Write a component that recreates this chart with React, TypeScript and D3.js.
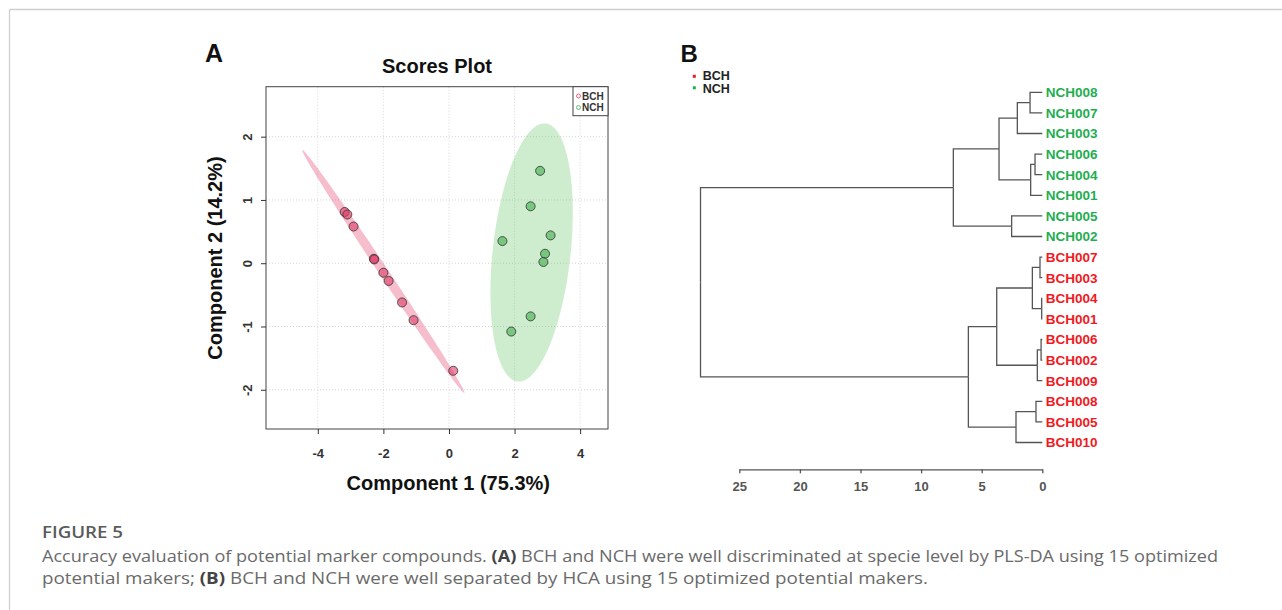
import * as d3 from "d3";
import React, { useRef, useEffect } from "react";

// ---- panel A: PLS-DA scores ----
const bchX = [-3.18, -3.1, -2.91, -2.29, -2.28, -2.0, -1.84, -1.43, -1.08, 0.13];
const bchY = [0.81, 0.77, 0.58, 0.07, 0.06, -0.15, -0.28, -0.62, -0.9, -1.7];
const nchX = [2.78, 2.49, 3.1, 1.63, 2.93, 2.88, 2.49, 1.9];
const nchY = [1.46, 0.9, 0.44, 0.35, 0.15, 0.02, -0.84, -1.08];
const xTicks = [-4, -2, 0, 2, 4];
const yTicks = [-2, -1, 0, 1, 2];
// 95% ellipses: centre, first and second semi-axis vectors (data units)
const bchEllipseC = [-2.0, -0.13];
const bchEllipseA = [-2.47, 1.92];
const bchEllipseB = [0.12, 0.04];
const nchEllipseC = [2.52, 0.17];
const nchEllipseA = [0.43, 2.04];
const nchEllipseB = [1.18, -0.07];
const groups = ["BCH", "NCH"];

// ---- panel B: HCA dendrogram ----
const hcaTree = {
  h: 28.2,
  c: [
    {
      h: 7.34,
      c: [
        {
          h: 3.57,
          c: [
            { h: 2.06, c: [{ h: 1.01, c: ["NCH008", "NCH007"] }, "NCH003"] },
            { h: 0.96, c: [{ h: 0.6, c: ["NCH006", "NCH004"] }, "NCH001"] },
          ],
        },
        { h: 2.53, c: ["NCH005", "NCH002"] },
      ],
    },
    {
      h: 6.1,
      c: [
        {
          h: 3.76,
          c: [
            { h: 0.82, c: [{ h: 0.19, c: ["BCH007", "BCH003"] }, { h: 0.05, c: ["BCH004", "BCH001"] }] },
            { h: 0.41, c: [{ h: 0.1, c: ["BCH006", "BCH002"] }, "BCH009"] },
          ],
        },
        { h: 2.17, c: [{ h: 0.52, c: ["BCH008", "BCH005"] }, "BCH010"] },
      ],
    },
  ],
};
const hTicks = [25, 20, 15, 10, 5, 0];

const pink = "#e0406a";
const green = "#43b04f";
const labRed = "#f01a1e";
const labGreen = "#1fae4f";
const chartFont = "'Liberation Sans', Arial, sans-serif";

const App = () => {
  const gx = useRef<SVGGElement>(null);
  const gy = useRef<SVGGElement>(null);
  const gh = useRef<SVGGElement>(null);

  const x = d3.scaleLinear([-5.58, 4.85], [266, 608]);
  const y = d3.scaleLinear([-2.62, 2.79], [429, 86.7]);
  const hx = d3.scaleLinear([0, 25], [1042.3, 739.3]);

  useEffect(() => {
    const ax = d3
      .select(gx.current)
      .call(d3.axisBottom(x).tickValues(xTicks).tickSize(5).tickPadding(15).tickFormat((d: any) => String(d)));
    ax.select(".domain").remove();
    ax.attr("font-size", 13).attr("font-weight", "bold").attr("font-family", chartFont).attr("color", "#333");

    const ay = d3
      .select(gy.current)
      .call(d3.axisLeft(y).tickValues(yTicks).tickSize(5).tickFormat((d: any) => String(d)));
    ay.select(".domain").remove();
    ay.attr("font-size", 13).attr("font-weight", "bold").attr("font-family", chartFont).attr("color", "#333");
    ay.selectAll(".tick text")
      .attr("x", null)
      .attr("dy", null)
      .attr("text-anchor", "middle")
      .attr("transform", "translate(-14.5,0) rotate(-90)");

    const ah = d3
      .select(gh.current)
      .call(d3.axisBottom(hx).tickValues(hTicks).tickSize(4).tickSizeOuter(0).tickPadding(8));
    ah.attr("font-size", 13).attr("font-weight", "bold").attr("font-family", chartFont).attr("color", "#555");
    ah.selectAll("path,line").attr("stroke-width", 1.3);
  }, []);

  const ellipsePath = (c: number[], a: number[], b: number[]) =>
    d3.line()(
      d3.range(0, 361, 4).map((t) => {
        const r = (t * Math.PI) / 180;
        return [
          x(c[0] + a[0] * Math.cos(r) + b[0] * Math.sin(r)),
          y(c[1] + a[1] * Math.cos(r) + b[1] * Math.sin(r)),
        ] as [number, number];
      })
    ) + "Z";

  // dendrogram layout
  const root = d3.hierarchy<any>(hcaTree, (d: any) => (typeof d === "string" ? null : d.c));
  const leafGap = 20.6;
  d3.cluster<any>().size([18 * leafGap, 1]).separation(() => 1)(root);
  const top = 82;
  const nh = (n: any) => (typeof n.data === "string" ? 0 : n.data.h);

  return (
    <div style={{ position: "absolute", left: 0, top: 0 }}>
      <svg width={1282} height={610} style={{ display: "block" }}>
        <rect width={1282} height={610} fill="#fff" />
        {/* figure frame */}
        <line x1={9.5} y1={9.5} x2={1282} y2={9.5} stroke="#cfcfcf" strokeWidth={1.3} />
        <line x1={9.5} y1={9.5} x2={9.5} y2={610} stroke="#cfcfcf" strokeWidth={1.3} />

        {/* ---------- A ---------- */}
        <g fontFamily={chartFont} fontWeight="bold">
          <text x={205} y={61.7} fontSize={25} fill="#111">A</text>
          <text x={437} y={73.3} fontSize={20} textAnchor="middle" fill="#111">Scores Plot</text>
          <text x={448.3} y={490} fontSize={20} textAnchor="middle" fill="#111">Component 1 (75.3%)</text>
          <text transform="translate(222,258) rotate(-90)" fontSize={20} textAnchor="middle" fill="#111">
            Component 2 (14.2%)
          </text>
        </g>
        <g stroke="#d6d6d6" strokeDasharray="1,2" strokeWidth={1}>
          {xTicks.map((t) => (
            <line key={"gx" + t} x1={x(t)} x2={x(t)} y1={86.7} y2={429} />
          ))}
          {yTicks.map((t) => (
            <line key={"gy" + t} x1={266} x2={608} y1={y(t)} y2={y(t)} />
          ))}
        </g>
        <path d={ellipsePath(nchEllipseC, nchEllipseA, nchEllipseB)} fill="#5cbf5c" fillOpacity={0.3} />
        <path d={ellipsePath(bchEllipseC, bchEllipseA, bchEllipseB)} fill="#e8547a" fillOpacity={0.38} />
        <g stroke="#3a3a3a" strokeOpacity={0.85} strokeWidth={1}>
          {bchX.map((v, i) => (
            <circle key={"b" + i} cx={x(v)} cy={y(bchY[i])} r={4.5} fill={pink} fillOpacity={0.62} />
          ))}
          {nchX.map((v, i) => (
            <circle key={"n" + i} cx={x(v)} cy={y(nchY[i])} r={4.5} fill={green} fillOpacity={0.62} />
          ))}
        </g>
        <rect x={266} y={86.7} width={342} height={342.3} fill="none" stroke="#444" strokeWidth={1} />
        <g ref={gx} transform="translate(0,429)" />
        <g ref={gy} transform="translate(266,0)" />
        {/* legend */}
        <rect x={573} y={86.7} width={35} height={29} fill="#fff" stroke="#444" strokeWidth={1} />
        {groups.map((g, i) => (
          <g key={g}>
            <circle cx={578.5} cy={96 + i * 11.5} r={2} fill="none" stroke={i === 0 ? pink : green} strokeWidth={0.8} />
            <text x={582} y={99.5 + i * 11.5} fontSize={10} fontWeight="bold" fontFamily={chartFont} fill="#333">
              {g}
            </text>
          </g>
        ))}

        {/* ---------- B ---------- */}
        <g fontFamily={chartFont} fontWeight="bold">
          <text x={680.5} y={61.7} fontSize={24} fill="#111">B</text>
          <rect x={692.8} y={74.8} width={3} height={3} fill={labRed} />
          <rect x={692.8} y={86.3} width={3} height={3} fill={labGreen} />
          <text x={702.7} y={80.3} fontSize={12.5} fill="#222">BCH</text>
          <text x={702.7} y={93.3} fontSize={12.5} fill="#222">NCH</text>
        </g>
        <g fill="none" stroke="#555" strokeWidth={1.3}>
          {root.links().map((l: any, i: number) => (
            <path
              key={"l" + i}
              d={`M${hx(nh(l.source))},${top + l.source.x}V${top + l.target.x}H${hx(nh(l.target))}`}
            />
          ))}
        </g>
        <g fontFamily={chartFont} fontWeight="bold" fontSize={13.5}>
          {root.leaves().map((n: any) => (
            <text
              key={n.data}
              x={1045.7}
              y={top + n.x}
              dy="0.36em"
              fill={n.data.startsWith("BCH") ? labRed : labGreen}
            >
              {n.data}
            </text>
          ))}
        </g>
        <g ref={gh} transform="translate(0,469.3)" />

        {/* ---------- caption ---------- */}
        <g fontFamily="'Open Sans', sans-serif">
          <text x={42} y={537.7} fontSize={17} fontWeight={600} fill="#5a5a5a" textLength={81} lengthAdjust="spacingAndGlyphs">
            FIGURE 5
          </text>
          <text x={42} y={561.5} fontSize={16.5} fill="#6a6a6a" textLength={1176} lengthAdjust="spacingAndGlyphs">
            Accuracy evaluation of potential marker compounds. <tspan fontWeight={700} fill="#444">(A)</tspan> BCH and
            NCH were well discriminated at specie level by PLS-DA using 15 optimized
          </text>
          <text x={42} y={584} fontSize={16.5} fill="#6a6a6a" textLength={886} lengthAdjust="spacingAndGlyphs">
            potential makers; <tspan fontWeight={700} fill="#444">(B)</tspan> BCH and NCH were well separated by HCA using
            15 optimized potential makers.
          </text>
        </g>
      </svg>
    </div>
  );
};

export default App;
